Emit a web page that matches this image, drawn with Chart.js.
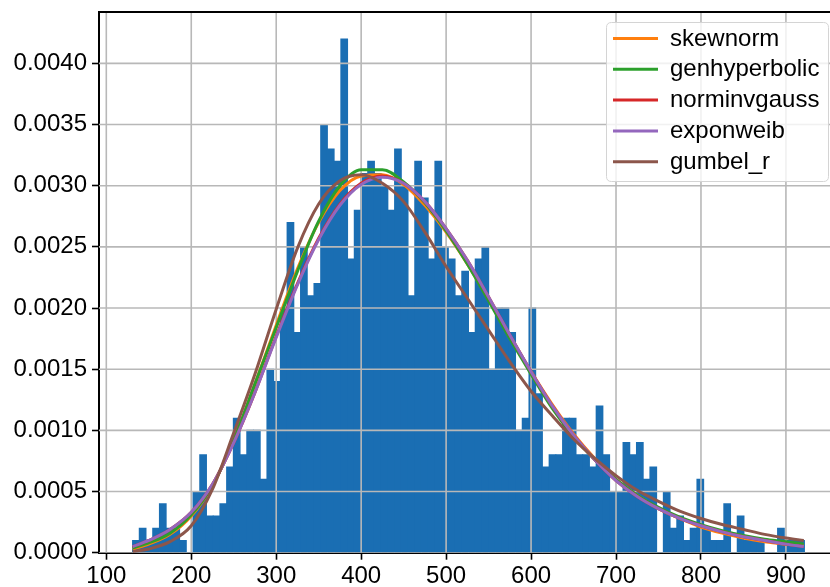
<!DOCTYPE html>
<html><head><meta charset="utf-8">
<script src="https://cdn.jsdelivr.net/npm/chart.js@4.4.1/dist/chart.umd.min.js"></script>
<style>
html,body{margin:0;padding:0;background:#fff;overflow:hidden;width:830px;height:587px;}
#wrap{position:relative;width:842px;height:587px;}
</style></head><body>
<div id="wrap"><canvas id="c" width="842" height="587"></canvas></div>
<script>
// ---- data ----
const histStart = 130.9;   // left edge of first bin
const histEnd = 921.8;     // right edge of last bin
const histDensity = [
0.0001,0.0002,0.0001,0.0002,0.0004,0.0002,0.0002,0.0001,0.0000,0.0005,
0.0008,0.0003,0.0003,0.0004,0.0007,0.0011,0.0008,0.0010,0.0010,0.0006,
0.0015,0.0014,0.0020,0.0027,0.0018,0.0025,0.0021,0.0022,0.0035,0.0033,
0.0032,0.0042,0.0024,0.0028,0.0031,0.0032,0.0031,0.0030,0.0028,0.0033,
0.0030,0.0021,0.0032,0.0029,0.0024,0.0032,0.0025,0.0024,0.0021,0.0023,
0.0018,0.0024,0.0025,0.0015,0.0020,0.0020,0.0018,0.0010,0.0011,0.0020,
0.0013,0.0007,0.0008,0.0008,0.0011,0.0011,0.0008,0.0008,0.0007,0.0012,
0.0008,0.0005,0.0005,0.0009,0.0008,0.0009,0.0006,0.0007,0.0000,0.0005,
0.0002,0.0003,0.0001,0.0002,0.0006,0.0002,0.0001,0.0001,0.0004,0.0000,
0.0003,0.0001,0.0001,0.0001,0.0000,0.0000,0.0002,0.0001,0.0001,0.0001
];
const curveX = [131,150,175,200,225,250,275,300,325,350,375,400,425,450,475,500,525,550,575,600,625,650,675,700,725,750,775,800,825,850,875,900,921];
const skewnorm = [0.00003,0.00007,0.00015,0.00030,0.00055,0.00092,0.00138,0.00186,0.00232,0.00270,0.00296,0.00308,0.00309,0.00301,0.00284,0.00262,0.00236,0.00207,0.00177,0.00148,0.00121,0.00097,0.00077,0.00060,0.00047,0.00036,0.00028,0.00021,0.00016,0.00012,0.00009,0.00007,0.00006];
const genhyperbolic = [0.00004,0.00008,0.00016,0.00031,0.00055,0.00092,0.00138,0.00184,0.00230,0.00271,0.00300,0.00313,0.00313,0.00303,0.00286,0.00263,0.00236,0.00206,0.00175,0.00146,0.00118,0.00095,0.00076,0.00060,0.00047,0.00037,0.00029,0.00023,0.00018,0.00014,0.00011,0.00009,0.00007];
const norminvgauss = [0.00005,0.00010,0.00019,0.00033,0.00056,0.00090,0.00131,0.00177,0.00220,0.00257,0.00285,0.00302,0.00308,0.00302,0.00287,0.00265,0.00239,0.00209,0.00178,0.00148,0.00120,0.00096,0.00076,0.00059,0.00046,0.00036,0.00028,0.00022,0.00017,0.00013,0.00010,0.00007,0.00005];
const exponweib = [0.00005,0.00010,0.00019,0.00033,0.00056,0.00090,0.00131,0.00176,0.00219,0.00256,0.00284,0.00301,0.00307,0.00302,0.00287,0.00265,0.00239,0.00209,0.00178,0.00148,0.00120,0.00096,0.00076,0.00059,0.00046,0.00036,0.00028,0.00022,0.00017,0.00013,0.00010,0.00007,0.00005];
const gumbelR = [0.00001,0.00003,0.00009,0.00022,0.00052,0.00098,0.00146,0.00199,0.00249,0.00285,0.00304,0.00309,0.00302,0.00287,0.00262,0.00234,0.00208,0.00182,0.00156,0.00132,0.00112,0.00093,0.00077,0.00063,0.00051,0.00042,0.00034,0.00028,0.00023,0.00019,0.00015,0.00012,0.00010];
const seriesNames = ['skewnorm','genhyperbolic','norminvgauss','exponweib','gumbel_r'];
const seriesValues = [skewnorm, genhyperbolic, norminvgauss, exponweib, gumbelR];
const xTicks = [100,200,300,400,500,600,700,800,900];
const yTicks = [0,0.0005,0.0010,0.0015,0.0020,0.0025,0.0030,0.0035,0.0040];

// ---- styles ----
const FONT = "'Liberation Sans', Arial, Helvetica, sans-serif";
const BAR = '#1a6eb3';
const GRID = '#b8b8b8';
const COLORS = ['#ff7f0e','#2ca02c','#d62728','#9467bd','#8c564b'];

const binW = (histEnd - histStart) / histDensity.length;
const histPoints = histDensity.map((d, i) => ({x: histStart + (i + 0.5) * binW, y: d}));

const datasets = [{
  type: 'bar', label: 'hist', data: histPoints,
  backgroundColor: BAR, borderWidth: 0, barPercentage: 1, categoryPercentage: 1,
  inflateAmount: 0.5, order: 10
}];
seriesNames.forEach((name, k) => {
  datasets.push({
    type: 'line', label: name,
    data: curveX.map((x, i) => ({x: x, y: seriesValues[k][i]})),
    borderColor: COLORS[k], backgroundColor: COLORS[k], borderWidth: 3,
    pointRadius: 0, cubicInterpolationMode: 'monotone', fill: false,
    order: 5 - k
  });
});

const gridPlugin = {
  id: 'gridOverBars',
  afterDatasetDraw(chart, args) {
    if (args.index !== 0) return;
    const {ctx, chartArea: a, scales: {x, y}} = chart;
    ctx.save();
    ctx.beginPath(); ctx.rect(a.left, a.top, a.right - a.left, a.bottom - a.top); ctx.clip();
    ctx.strokeStyle = GRID; ctx.lineWidth = 1.6;
    xTicks.forEach(v => { const p = x.getPixelForValue(v); ctx.beginPath(); ctx.moveTo(p, a.top); ctx.lineTo(p, a.bottom); ctx.stroke(); });
    yTicks.forEach(v => { const p = y.getPixelForValue(v); ctx.beginPath(); ctx.moveTo(a.left, p); ctx.lineTo(a.right, p); ctx.stroke(); });
    ctx.restore();
  }
};

const frameLegendPlugin = {
  id: 'frameLegend',
  afterDraw(chart) {
    const {ctx, chartArea: a} = chart;
    ctx.save();
    // top spine
    ctx.strokeStyle = '#000'; ctx.lineWidth = 2;
    ctx.beginPath(); ctx.moveTo(a.left - 1, a.top); ctx.lineTo(a.right, a.top); ctx.stroke();
    // legend box
    const bx = 606.5, by = 22.5, bw = 222, bh = 159, r = 5;
    ctx.beginPath();
    ctx.moveTo(bx + r, by); ctx.lineTo(bx + bw - r, by); ctx.quadraticCurveTo(bx + bw, by, bx + bw, by + r);
    ctx.lineTo(bx + bw, by + bh - r); ctx.quadraticCurveTo(bx + bw, by + bh, bx + bw - r, by + bh);
    ctx.lineTo(bx + r, by + bh); ctx.quadraticCurveTo(bx, by + bh, bx, by + bh - r);
    ctx.lineTo(bx, by + r); ctx.quadraticCurveTo(bx, by, bx + r, by);
    ctx.closePath();
    ctx.fillStyle = 'rgba(255,255,255,0.8)'; ctx.fill();
    ctx.strokeStyle = '#d4d4d4'; ctx.lineWidth = 1; ctx.stroke();
    ctx.font = '24px ' + FONT; ctx.textBaseline = 'alphabetic'; ctx.textAlign = 'left';
    chart.data.datasets.slice(1).forEach((ds, i) => {
      const cy = 38.5 + i * 30.8;
      ctx.strokeStyle = ds.borderColor; ctx.lineWidth = 3;
      ctx.beginPath(); ctx.moveTo(613, cy); ctx.lineTo(658, cy); ctx.stroke();
      ctx.fillStyle = '#000';
      ctx.fillText(ds.label, 670, cy + 7);
    });
    ctx.restore();
  }
};

new Chart(document.getElementById('c'), {
  data: {datasets: datasets},
  options: {
    responsive: false, animation: false, devicePixelRatio: 1,
    layout: {padding: {left: 0, top: 12, right: 4, bottom: 0}},
    plugins: {legend: {display: false}, tooltip: {enabled: false}},
    scales: {
      x: {
        type: 'linear', min: 91.4, max: 961.3, offset: false,
        afterBuildTicks: s => { s.ticks = xTicks.map(v => ({value: v})); },
        afterFit: s => { s.height = 34.3; s.paddingLeft = 0; s.paddingRight = 0; },
        ticks: {font: {family: FONT, size: 24}, color: '#000', padding: 2, maxRotation: 0, autoSkip: false},
        grid: {drawOnChartArea: false, offset: false, color: '#000', tickColor: '#000', tickLength: 7, tickWidth: 1.6},
        border: {display: true, color: '#000', width: 2}
      },
      y: {
        type: 'linear', min: 0, max: 0.00442,
        afterBuildTicks: s => { s.ticks = yTicks.map(v => ({value: v})); },
        afterFit: s => { s.width = 99; s.paddingTop = 0; s.paddingBottom = 0; },
        ticks: {font: {family: FONT, size: 24}, color: '#000', padding: 5, callback: v => v.toFixed(4)},
        grid: {drawOnChartArea: false, color: '#000', tickColor: '#000', tickLength: 7, tickWidth: 1.6},
        border: {display: true, color: '#000', width: 2}
      }
    }
  },
  plugins: [gridPlugin, frameLegendPlugin]
});
</script>
</body></html>
